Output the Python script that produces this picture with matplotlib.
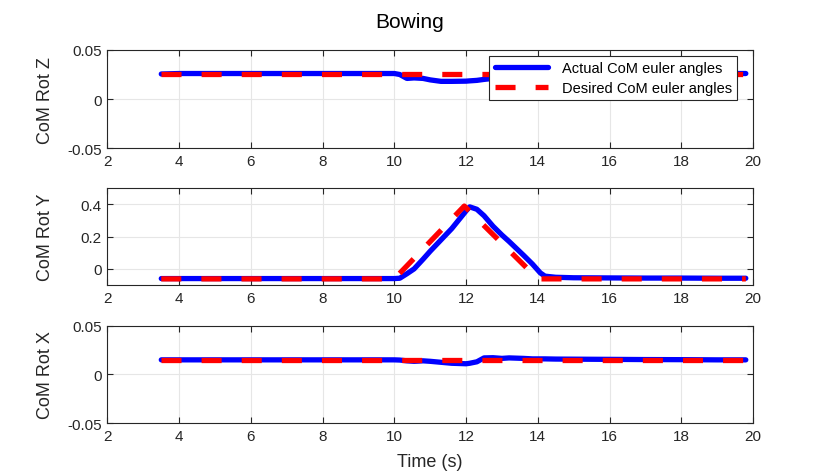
import numpy as np
import matplotlib
matplotlib.use("Agg")
import matplotlib.pyplot as plt

plt.rcParams['font.family'] = ['Liberation Sans', 'DejaVu Sans']

# time samples (s)
t_act = [3.5, 4, 5, 6, 7, 8, 9, 10, 10.15, 10.35, 10.55, 10.8, 11.0, 11.3, 11.6, 12.0,
         12.1, 12.3, 12.5, 12.75, 13.0, 13.2, 13.6, 13.85, 14.07, 14.2, 14.5, 15, 16, 17, 18, 19, 19.8]

# actual CoM euler angles
rotz_act = [0.0255, 0.026, 0.026, 0.026, 0.026, 0.026, 0.026, 0.026, 0.025, 0.021, 0.0215, 0.021,
            0.0195, 0.018, 0.018, 0.0182, 0.0185, 0.019, 0.020, 0.021, 0.0225, 0.023, 0.024, 0.0245,
            0.025, 0.0255, 0.026, 0.026, 0.026, 0.026, 0.026, 0.026, 0.026]
roty_act = [-0.06, -0.06, -0.06, -0.06, -0.06, -0.06, -0.06, -0.06, -0.058, -0.03, 0.0, 0.06,
            0.11, 0.18, 0.25, 0.36, 0.385, 0.37, 0.33, 0.265, 0.21, 0.17, 0.085, 0.03, -0.025, -0.045,
            -0.052, -0.055, -0.056, -0.057, -0.057, -0.058, -0.058]
rotx_act = [0.015, 0.015, 0.015, 0.015, 0.015, 0.015, 0.015, 0.015, 0.0148, 0.014, 0.0135, 0.014,
            0.0135, 0.0125, 0.0115, 0.011, 0.0115, 0.013, 0.017, 0.0172, 0.0165, 0.017, 0.0165,
            0.016, 0.016, 0.016, 0.0158, 0.0157, 0.0155, 0.0153, 0.0152, 0.015, 0.015]

# desired CoM euler angles
t_des = [3.5, 10.0, 11.95, 14.0, 19.8]
rotz_des = [0.025, 0.025, 0.025, 0.025, 0.025]
roty_des = [-0.062, -0.062, 0.39, -0.062, -0.062]
rotx_des = [0.015, 0.015, 0.015, 0.015, 0.015]

labels = ['CoM Rot Z', 'CoM Rot Y', 'CoM Rot X']
ylims = [(-0.05, 0.05), (-0.1, 0.5), (-0.05, 0.05)]
yticks = [[-0.05, 0, 0.05], [0, 0.2, 0.4], [-0.05, 0, 0.05]]
yticklabels = [['-0.05', '0', '0.05'], ['0', '0.2', '0.4'], ['-0.05', '0', '0.05']]
xticks = [2, 4, 6, 8, 10, 12, 14, 16, 18, 20]

fig = plt.figure(figsize=(8.3, 4.77), dpi=100)
positions = [[0.1295, 0.6876, 0.7777, 0.2055],
             [0.1295, 0.4004, 0.7777, 0.2027],
             [0.1295, 0.1105, 0.7777, 0.2046]]

acts = [rotz_act, roty_act, rotx_act]
dess = [rotz_des, roty_des, rotx_des]

axes = []
for i in range(3):
    ax = fig.add_axes(positions[i])
    ax.plot(t_act, acts[i], color='blue', lw=3.8, solid_capstyle='round',
            solid_joinstyle='round', label='Actual CoM euler angles', zorder=3)
    ax.plot(t_des, dess[i], color='red', lw=3.8, dashes=(3.8, 3.8),
            label='Desired CoM euler angles', zorder=4)
    ax.set_xlim(2, 20)
    ax.set_ylim(*ylims[i])
    ax.set_xticks(xticks)
    ax.set_yticks(yticks[i])
    ax.set_yticklabels(yticklabels[i])
    ax.grid(True, color='#e6e6e6', lw=0.8)
    ax.set_axisbelow(True)
    ax.tick_params(direction='in', top=True, right=True, labelsize=11, length=4,
                   color='#262626', labelcolor='#262626', pad=4)
    for s in ax.spines.values():
        s.set_color('#262626')
        s.set_linewidth(0.8)
    ax.set_ylabel(labels[i], fontsize=13, color='#262626')
    ax.yaxis.set_label_coords(-0.083, 0.5)
    axes.append(ax)

fig.text(410 / 830, 1 - 27.7 / 477, 'Bowing', fontsize=15, color='black',
         ha='center', va='baseline')
axes[2].set_xlabel('Time (s)', fontsize=13, color='#262626', labelpad=7)

leg = axes[0].legend(loc='upper right', bbox_to_anchor=(0.975, 0.939), fontsize=10.5,
                     fancybox=False, framealpha=1, edgecolor='#262626',
                     handlelength=3.7, borderpad=0.35, labelspacing=0.4,
                     handletextpad=0.9, borderaxespad=0)
leg.get_frame().set_linewidth(0.8)

fig.savefig('out.png', dpi=100)
